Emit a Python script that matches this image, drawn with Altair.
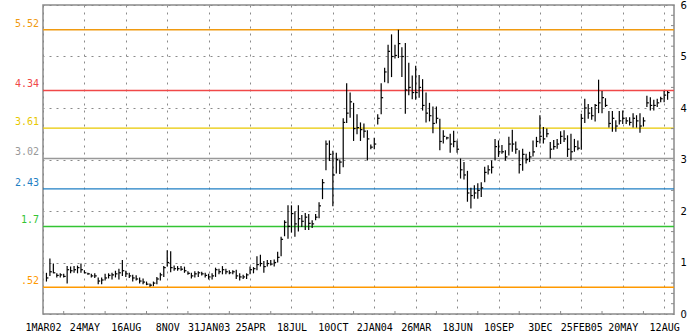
import altair as alt
import pandas as pd

# weekly bars (high, low, close), first bar week ending 8 Mar 2002
highs = [0.80,1.08,0.98,0.79,0.79,0.78,0.93,0.92,0.93,0.94,0.98,0.85,0.80,0.78,0.79,0.71,0.71,0.78,0.79,0.80,
         0.84,0.88,1.05,0.84,0.80,0.76,0.75,0.71,0.69,0.63,0.59,0.63,0.72,0.80,0.93,1.24,1.22,0.94,0.93,0.93,
         0.92,0.83,0.80,0.83,0.83,0.82,0.80,0.78,0.79,0.90,0.88,0.93,0.88,0.85,0.85,0.86,0.79,0.76,0.79,0.92,
         0.91,1.12,1.15,1.03,1.05,1.05,1.06,1.21,1.50,1.82,2.11,2.11,1.99,2.11,1.92,1.96,1.94,1.82,1.94,2.17,
         2.62,3.37,3.37,3.17,3.13,3.00,3.80,4.48,4.30,4.10,3.88,3.72,3.70,3.57,3.29,3.42,3.88,4.48,4.78,5.23,
         5.43,5.23,5.52,5.18,5.26,4.88,4.63,4.82,4.64,4.56,4.30,4.10,4.03,4.03,3.79,3.57,3.44,3.50,3.56,3.37,
         3.02,2.95,2.78,2.45,2.50,2.54,2.56,2.86,2.89,2.98,3.40,3.37,3.28,3.18,3.44,3.58,3.35,3.18,3.21,3.11,
         3.15,3.37,3.44,3.86,3.63,3.60,3.34,3.38,3.40,3.55,3.57,3.47,3.50,3.40,3.37,3.89,4.18,4.08,4.02,4.08,
         4.55,4.33,4.19,3.94,3.94,3.76,3.94,3.95,3.82,3.82,3.90,3.86,3.90,3.82,4.24,4.21,4.16,4.18,4.22,4.33,
         4.33]
lows = [0.63,0.74,0.79,0.71,0.71,0.71,0.59,0.79,0.80,0.79,0.80,0.79,0.76,0.71,0.70,0.58,0.58,0.65,0.69,0.67,
        0.71,0.67,0.74,0.72,0.70,0.63,0.65,0.59,0.58,0.56,0.53,0.54,0.58,0.65,0.72,0.92,0.81,0.84,0.84,0.84,
        0.80,0.76,0.69,0.71,0.72,0.75,0.71,0.67,0.67,0.72,0.77,0.77,0.77,0.77,0.77,0.68,0.65,0.68,0.68,0.77,
        0.79,0.85,0.92,0.80,0.92,0.94,0.92,1.00,1.12,1.51,1.46,1.58,1.50,1.60,1.69,1.63,1.63,1.67,1.82,1.86,
        2.23,2.79,2.97,2.09,2.73,2.72,2.85,3.71,3.81,3.36,3.49,3.36,3.42,2.98,3.20,3.20,3.68,3.88,4.50,4.48,
        4.60,4.96,4.97,4.60,3.89,4.25,4.17,4.16,4.20,3.95,3.72,3.74,3.51,3.70,3.18,3.31,3.39,3.13,3.24,3.13,
        2.63,2.61,2.18,2.05,2.24,2.24,2.27,2.56,2.71,2.73,2.98,3.05,3.11,2.98,3.08,3.15,3.11,2.73,2.78,2.92,
        2.95,3.06,3.24,3.31,3.31,3.43,3.02,3.19,3.21,3.30,3.34,3.05,2.98,3.15,3.18,3.19,3.71,3.79,3.77,3.74,
        3.90,3.90,4.02,3.62,3.54,3.54,3.68,3.69,3.69,3.66,3.62,3.62,3.52,3.64,4.02,3.95,3.95,4.02,4.11,4.11,
        4.16]
closes = [0.70,0.82,0.80,0.75,0.76,0.73,0.86,0.84,0.86,0.90,0.86,0.80,0.78,0.74,0.74,0.64,0.66,0.70,0.75,0.76,
          0.78,0.80,0.84,0.78,0.74,0.70,0.68,0.64,0.62,0.58,0.56,0.60,0.68,0.76,0.90,1.00,0.90,0.88,0.88,0.87,
          0.84,0.79,0.74,0.78,0.80,0.78,0.75,0.72,0.74,0.86,0.82,0.86,0.82,0.80,0.82,0.74,0.72,0.72,0.76,0.86,
          0.88,0.96,0.98,0.92,0.98,0.97,1.00,1.10,1.45,1.78,1.70,1.95,1.75,1.85,1.80,1.88,1.76,1.75,1.88,2.10,
          2.55,3.30,3.10,2.70,3.00,2.95,3.72,3.90,4.12,3.60,3.62,3.58,3.55,3.40,3.24,3.30,3.80,4.20,4.70,5.10,
          5.00,5.02,5.25,5.00,4.35,4.40,4.30,4.30,4.40,4.05,3.90,3.85,3.70,3.80,3.35,3.45,3.42,3.30,3.35,3.20,
          2.80,2.70,2.35,2.30,2.35,2.40,2.45,2.75,2.80,2.85,3.25,3.15,3.15,3.05,3.30,3.30,3.20,2.90,3.10,3.00,
          3.05,3.15,3.35,3.45,3.40,3.50,3.20,3.25,3.30,3.45,3.40,3.20,3.15,3.25,3.22,3.80,4.00,3.90,3.85,4.05,
          4.10,4.20,4.05,3.70,3.80,3.65,3.75,3.80,3.75,3.72,3.80,3.75,3.65,3.75,4.10,4.05,4.05,4.10,4.18,4.25,
          4.30]

levels = [0.52, 1.7, 2.43, 3.02, 3.61, 4.34, 5.52]
level_labels = [".52", "1.7", "2.43", "3.02", "3.61", "4.34", "5.52"]
level_colors = ["#ff9900", "#33c433", "#1f7fc4", "#999999", "#e8c800", "#f04848", "#f09a10"]

tick_labels = ["1MAR02", "24MAY", "16AUG", "8NOV", "31JAN03", "25APR", "18JUL", "10OCT",
               "2JAN04", "26MAR", "18JUN", "10SEP", "3DEC", "25FEB05", "20MAY", "12AUG"]
y_ticks = [0, 1, 2, 3, 4, 5, 6]

W, H = 631, 309
DAY = 86400000


def ms(ts):
    return int(pd.Timestamp(ts).value // 10**6)


first_bar = "2002-03-08"
first_tick = "2002-03-01"
domain_end = "2005-09-01"

dates = pd.date_range(first_bar, periods=len(highs), freq="7D")
bars = pd.DataFrame({
    "t": [ms(d) for d in dates],
    "high": highs, "low": lows, "close": closes,
})

major = [ms(d) for d in pd.date_range(first_tick, periods=len(tick_labels), freq="84D")]
minor = [ms(d) for d in pd.date_range(first_tick, periods=2 * len(tick_labels), freq="42D")]
minor = [m for m in minor if m not in major]
minor_x = pd.DataFrame({"t": minor})
minor_y = pd.DataFrame({"v": [round(i * 0.2, 1) for i in range(1, 30) if i % 5 != 0]})

lv = pd.DataFrame({"level": levels, "label": level_labels, "color": level_colors})

T0 = major[0]
label_expr = "[" + ",".join("'%s'" % s for s in tick_labels) + "][round((datum.value - %d) / %d)]" % (T0, 84 * DAY)

xscale = alt.Scale(type="utc", domain=[ms(first_tick), ms(domain_end)])
yscale = alt.Scale(domain=[0, 6], nice=False, zero=False)

x_axis = alt.Axis(values=major, labelExpr=label_expr, grid=True, gridColor="#8a8a8a",
                  gridDash=[2, 5], gridWidth=1, ticks=False, domain=False, labelFont="DejaVu Sans Mono",
                  labelFontSize=10, labelColor="#000000", labelPadding=8, labelAngle=0,
                  labelOverlap=False, labelFlush=False, title=None)
y_axis = alt.Axis(orient="right", values=y_ticks, grid=True, gridColor="#8a8a8a", gridDash=[2, 5],
                  gridWidth=1, ticks=False, domain=False, labelFont="DejaVu Sans", labelFontSize=10,
                  labelColor="#000000", labelPadding=6, title=None)

base = alt.Chart(bars)

hl = base.mark_rule(color="#000000", strokeWidth=1.2).encode(
    x=alt.X("t:T", scale=xscale, axis=x_axis),
    y=alt.Y("low:Q", scale=yscale, axis=y_axis),
    y2="high:Q",
)
cl = base.transform_calculate(t2="datum.t + %d" % (4 * DAY)).mark_rule(
    color="#000000", strokeWidth=1.2).encode(
    x=alt.X("t:T", scale=xscale),
    x2="t2:T",
    y=alt.Y("close:Q", scale=yscale),
)

lines = alt.Chart(lv).mark_rule(strokeWidth=1.4).encode(
    y=alt.Y("level:Q", scale=yscale),
    color=alt.Color("color:N", scale=None),
)
labels = alt.Chart(lv).mark_text(align="right", baseline="middle", dy=-6, font="DejaVu Sans Mono",
                                 fontSize=10).encode(
    x=alt.value(-4),
    y=alt.Y("level:Q", scale=yscale),
    text="label:N",
    color=alt.Color("color:N", scale=None),
)

mx = alt.Chart(minor_x).mark_rule(color="#8a8a8a", strokeWidth=1).encode(
    x=alt.X("t:T", scale=xscale), y=alt.value(H), y2=alt.value(H - 3))
my = alt.Chart(minor_y).mark_rule(color="#8a8a8a", strokeWidth=1).encode(
    y=alt.Y("v:Q", scale=yscale), x=alt.value(W), x2=alt.value(W - 3))

chart = alt.layer(lines, mx, my, hl, cl, labels).properties(
    width=W, height=H,
    autosize=alt.AutoSizeParams(type="none"),
    padding={"left": 43, "right": 20, "top": 5, "bottom": 20},
    background="#ffffff",
).configure_view(stroke="#8a8a8a", strokeWidth=1.5)

chart.save("out.html", embed_options={"renderer": "svg", "actions": False})
